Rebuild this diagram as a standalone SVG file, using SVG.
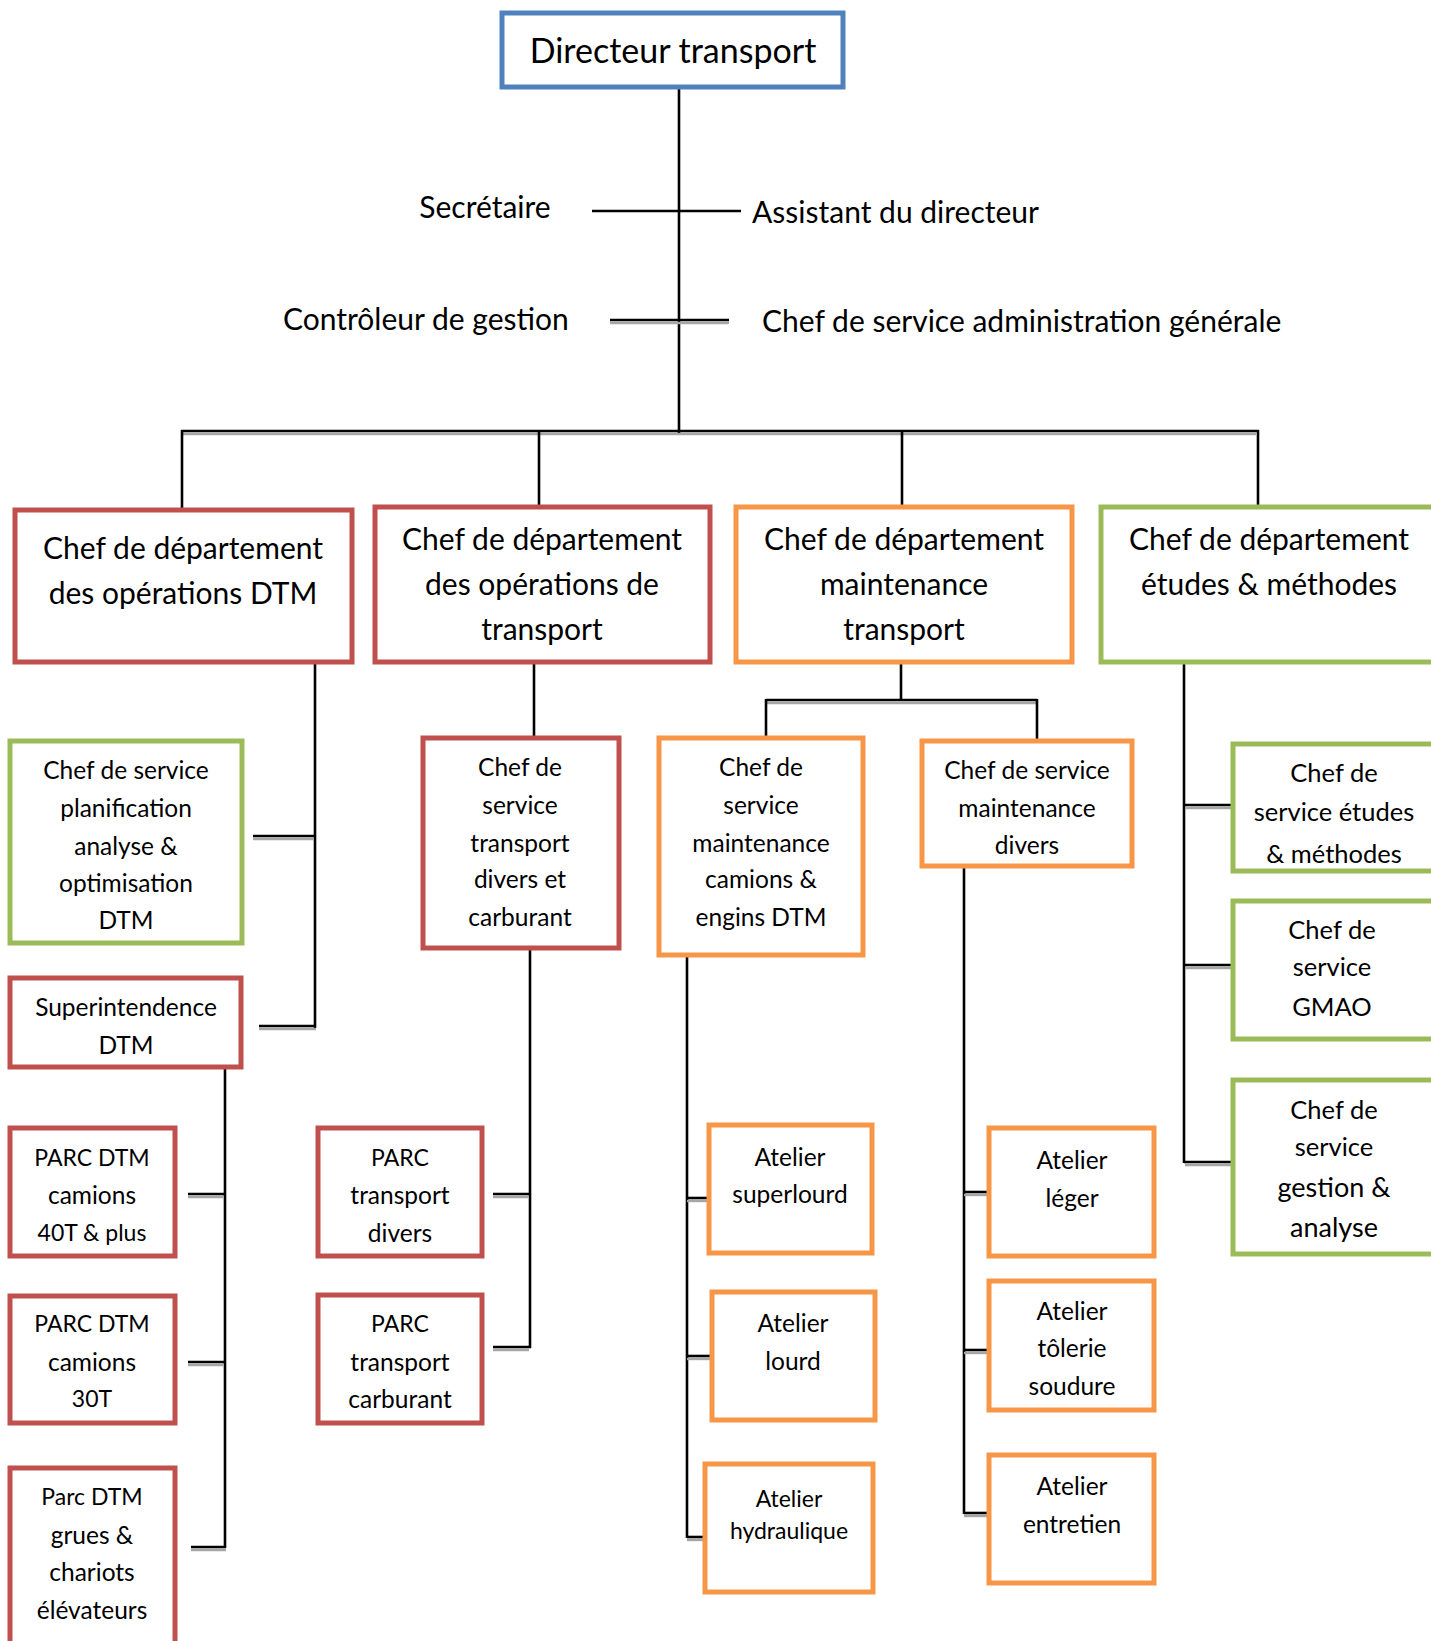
<svg xmlns="http://www.w3.org/2000/svg" width="1431" height="1641" viewBox="0 0 1431 1641">
  <style>
    .box { fill: #ffffff; stroke-width: 5; }
    .blu { stroke: #4F81BD; }
    .red { stroke: #C0504D; }
    .org { stroke: #F79646; }
    .grn { stroke: #9BBB59; }
    .ln { stroke: #000000; stroke-width: 2.6; fill: none; }
    .sh { stroke: #A6A6A6; stroke-width: 2.4; fill: none; }
    text { font-family: Lato, "Liberation Sans", sans-serif; fill: #000000; dominant-baseline: central; }
    .c { text-anchor: middle; }
    .t0 { font-size: 34px; }
    .t1 { font-size: 30px; }
    .t2 { font-size: 24.5px; }
    .t2c { font-size: 23px; }
    .t3 { font-size: 23px; }
    .t4 { font-size: 27px; }
    .t5 { font-size: 25.5px; }
  </style>
  <defs>
    <clipPath id="clipEtudes">
      <rect x="1235" y="746" width="200" height="123"/>
    </clipPath>
  </defs>
  <rect width="1431" height="1641" fill="#ffffff"/>

  <!-- connectors -->
  <g id="connectors">
    <!-- director trunk -->
    <line class="ln" x1="679" y1="88" x2="679" y2="433"/>
    <line class="ln" x1="592" y1="211" x2="741" y2="211"/>
    <line class="sh" x1="610" y1="323" x2="729" y2="323"/>
    <line class="ln" x1="610" y1="320" x2="729" y2="320"/>
    <!-- department bus -->
    <line class="sh" x1="182" y1="434" x2="1256" y2="434"/>
    <line class="ln" x1="181" y1="431" x2="1259" y2="431"/>
    <line class="ln" x1="182" y1="430" x2="182" y2="509"/>
    <line class="ln" x1="539" y1="430" x2="539" y2="506"/>
    <line class="ln" x1="902" y1="430" x2="902" y2="506"/>
    <line class="ln" x1="1258" y1="430" x2="1258" y2="506"/>

    <!-- DTM operations branch -->
    <line class="ln" x1="315" y1="663" x2="315" y2="1028"/>
    <line class="sh" x1="253" y1="839" x2="314" y2="839"/>
    <line class="ln" x1="253" y1="836" x2="315" y2="836"/>
    <line class="sh" x1="259" y1="1029" x2="316" y2="1029"/>
    <line class="ln" x1="259" y1="1026" x2="316" y2="1026"/>
    <!-- superintendence branch -->
    <line class="ln" x1="225" y1="1069" x2="225" y2="1548"/>
    <line class="sh" x1="188" y1="1197" x2="224" y2="1197"/>
    <line class="ln" x1="188" y1="1194" x2="225" y2="1194"/>
    <line class="sh" x1="188" y1="1365" x2="224" y2="1365"/>
    <line class="ln" x1="188" y1="1362" x2="225" y2="1362"/>
    <line class="sh" x1="191" y1="1550" x2="226" y2="1550"/>
    <line class="ln" x1="191" y1="1547" x2="226" y2="1547"/>

    <!-- transport operations branch -->
    <line class="ln" x1="534" y1="663" x2="534" y2="737"/>
    <line class="ln" x1="530" y1="950" x2="530" y2="1348"/>
    <line class="sh" x1="493" y1="1197" x2="529" y2="1197"/>
    <line class="ln" x1="493" y1="1194" x2="530" y2="1194"/>
    <line class="sh" x1="493" y1="1350" x2="529" y2="1350"/>
    <line class="ln" x1="493" y1="1347" x2="531" y2="1347"/>

    <!-- maintenance branch -->
    <line class="ln" x1="901" y1="663" x2="901" y2="700"/>
    <line class="sh" x1="767" y1="703" x2="1036" y2="703"/>
    <line class="ln" x1="766" y1="700" x2="1037" y2="700"/>
    <line class="ln" x1="766" y1="699" x2="766" y2="737"/>
    <line class="ln" x1="1037" y1="699" x2="1037" y2="740"/>
    <line class="ln" x1="687" y1="957" x2="687" y2="1538"/>
    <line class="sh" x1="687" y1="1201" x2="707" y2="1201"/>
    <line class="ln" x1="687" y1="1198" x2="707" y2="1198"/>
    <line class="sh" x1="687" y1="1359" x2="710" y2="1359"/>
    <line class="ln" x1="687" y1="1356" x2="710" y2="1356"/>
    <line class="sh" x1="687" y1="1540" x2="703" y2="1540"/>
    <line class="ln" x1="687" y1="1537" x2="703" y2="1537"/>
    <line class="ln" x1="964" y1="868" x2="964" y2="1514"/>
    <line class="sh" x1="964" y1="1195" x2="987" y2="1195"/>
    <line class="ln" x1="964" y1="1192" x2="987" y2="1192"/>
    <line class="sh" x1="964" y1="1353" x2="987" y2="1353"/>
    <line class="ln" x1="964" y1="1350" x2="987" y2="1350"/>
    <line class="sh" x1="964" y1="1516" x2="987" y2="1516"/>
    <line class="ln" x1="964" y1="1513" x2="987" y2="1513"/>

    <!-- studies & methods branch -->
    <line class="ln" x1="1184" y1="663" x2="1184" y2="1163"/>
    <line class="sh" x1="1185" y1="808" x2="1231" y2="808"/>
    <line class="ln" x1="1184" y1="805" x2="1231" y2="805"/>
    <line class="sh" x1="1185" y1="968" x2="1231" y2="968"/>
    <line class="ln" x1="1184" y1="965" x2="1231" y2="965"/>
    <line class="sh" x1="1185" y1="1165" x2="1231" y2="1165"/>
    <line class="ln" x1="1184" y1="1162" x2="1231" y2="1162"/>
  </g>

  <!-- director and staff -->
  <g id="directeur">
    <rect class="box blu" x="502" y="13" width="341" height="74"/>
    <text class="c t0" x="673" y="49">Directeur transport</text>
  </g>
  <g id="secretaire">
    <text class="c t1" x="485" y="206">Secrétaire</text>
  </g>
  <g id="assistant">
    <text class="t1" x="752" y="211">Assistant du directeur</text>
  </g>
  <g id="controleur">
    <text class="t1" x="283" y="318">Contrôleur de gestion</text>
  </g>
  <g id="admin-generale">
    <text class="t1" x="762" y="320">Chef de service administration générale</text>
  </g>

  <!-- departments -->
  <g id="dep-ops-dtm">
    <rect class="box red" x="15" y="510" width="337" height="152"/>
    <text class="c t1" x="183" y="547">Chef de département</text>
    <text class="c t1" x="183" y="592">des opérations DTM</text>
  </g>
  <g id="dep-ops-transport">
    <rect class="box red" x="375" y="507" width="335" height="155"/>
    <text class="c t1" x="542" y="538">Chef de département</text>
    <text class="c t1" x="542" y="583">des opérations de</text>
    <text class="c t1" x="542" y="628">transport</text>
  </g>
  <g id="dep-maintenance">
    <rect class="box org" x="736" y="507" width="336" height="155"/>
    <text class="c t1" x="904" y="538">Chef de département</text>
    <text class="c t1" x="904" y="583">maintenance</text>
    <text class="c t1" x="904" y="628">transport</text>
  </g>
  <g id="dep-etudes">
    <rect class="box grn" x="1101" y="507" width="345" height="155"/>
    <text class="c t1" x="1269" y="538">Chef de département</text>
    <text class="c t1" x="1269" y="583">études &amp; méthodes</text>
  </g>

  <!-- DTM operations -->
  <g id="planification">
    <rect class="box grn" x="10" y="741" width="232" height="202"/>
    <text class="c t2" x="126" y="769">Chef de service</text>
    <text class="c t2" x="126" y="807">planification</text>
    <text class="c t2" x="126" y="845">analyse &amp;</text>
    <text class="c t2" x="126" y="882">optimisation</text>
    <text class="c t2" x="126" y="919">DTM</text>
  </g>
  <g id="superintendence">
    <rect class="box red" x="10" y="978" width="231" height="89"/>
    <text class="c t2" x="126" y="1006">Superintendence</text>
    <text class="c t2" x="126" y="1044">DTM</text>
  </g>
  <g id="parc-40t">
    <rect class="box red" x="10" y="1128" width="165" height="128"/>
    <text class="c t2c" x="92" y="1157">PARC DTM</text>
    <text class="c t2" x="92" y="1194">camions</text>
    <text class="c t2c" x="92" y="1232">40T &amp; plus</text>
  </g>
  <g id="parc-30t">
    <rect class="box red" x="10" y="1296" width="165" height="127"/>
    <text class="c t2c" x="92" y="1323">PARC DTM</text>
    <text class="c t2" x="92" y="1361">camions</text>
    <text class="c t2c" x="92" y="1398">30T</text>
  </g>
  <g id="parc-grues">
    <rect class="box red" x="10" y="1468" width="165" height="200"/>
    <text class="c t2c" x="92" y="1496">Parc DTM</text>
    <text class="c t2" x="92" y="1534">grues &amp;</text>
    <text class="c t2" x="92" y="1571">chariots</text>
    <text class="c t2" x="92" y="1609">élévateurs</text>
  </g>

  <!-- transport operations -->
  <g id="transport-divers-carburant">
    <rect class="box red" x="423" y="738" width="196" height="210"/>
    <text class="c t2" x="520" y="766">Chef de</text>
    <text class="c t2" x="520" y="804">service</text>
    <text class="c t2" x="520" y="842">transport</text>
    <text class="c t2" x="520" y="878">divers et</text>
    <text class="c t2" x="520" y="916">carburant</text>
  </g>
  <g id="parc-transport-divers">
    <rect class="box red" x="318" y="1128" width="164" height="128"/>
    <text class="c t2c" x="400" y="1157">PARC</text>
    <text class="c t2" x="400" y="1194">transport</text>
    <text class="c t2" x="400" y="1232">divers</text>
  </g>
  <g id="parc-transport-carburant">
    <rect class="box red" x="318" y="1295" width="164" height="128"/>
    <text class="c t2c" x="400" y="1323">PARC</text>
    <text class="c t2" x="400" y="1361">transport</text>
    <text class="c t2" x="400" y="1398">carburant</text>
  </g>

  <!-- maintenance -->
  <g id="maint-camions-engins">
    <rect class="box org" x="659" y="738" width="204" height="217"/>
    <text class="c t2" x="761" y="766">Chef de</text>
    <text class="c t2" x="761" y="804">service</text>
    <text class="c t2" x="761" y="842">maintenance</text>
    <text class="c t2" x="761" y="878">camions &amp;</text>
    <text class="c t2" x="761" y="916">engins DTM</text>
  </g>
  <g id="maint-divers">
    <rect class="box org" x="922" y="741" width="210" height="125"/>
    <text class="c t2" x="1027" y="769">Chef de service</text>
    <text class="c t2" x="1027" y="807">maintenance</text>
    <text class="c t2" x="1027" y="844">divers</text>
  </g>
  <g id="atelier-superlourd">
    <rect class="box org" x="709" y="1125" width="163" height="128"/>
    <text class="c t2" x="790" y="1156">Atelier</text>
    <text class="c t2" x="790" y="1193">superlourd</text>
  </g>
  <g id="atelier-lourd">
    <rect class="box org" x="712" y="1292" width="163" height="128"/>
    <text class="c t2" x="793" y="1322">Atelier</text>
    <text class="c t2" x="793" y="1360">lourd</text>
  </g>
  <g id="atelier-hydraulique">
    <rect class="box org" x="705" y="1464" width="168" height="128"/>
    <text class="c t3" x="789" y="1498">Atelier</text>
    <text class="c t3" x="789" y="1530">hydraulique</text>
  </g>
  <g id="atelier-leger">
    <rect class="box org" x="989" y="1128" width="165" height="128"/>
    <text class="c t2" x="1072" y="1159">Atelier</text>
    <text class="c t2" x="1072" y="1197">léger</text>
  </g>
  <g id="atelier-tolerie">
    <rect class="box org" x="989" y="1281" width="165" height="129"/>
    <text class="c t2" x="1072" y="1310">Atelier</text>
    <text class="c t2" x="1072" y="1347">tôlerie</text>
    <text class="c t2" x="1072" y="1385">soudure</text>
  </g>
  <g id="atelier-entretien">
    <rect class="box org" x="989" y="1455" width="165" height="128"/>
    <text class="c t2" x="1072" y="1485">Atelier</text>
    <text class="c t2" x="1072" y="1523">entretien</text>
  </g>

  <!-- studies & methods -->
  <g id="service-etudes">
    <rect class="box grn" x="1233" y="744" width="220" height="127"/>
    <g clip-path="url(#clipEtudes)">
      <text class="c t5" x="1334" y="772">Chef de</text>
      <text class="c t5" x="1334" y="811">service études</text>
      <text class="c t5" x="1334" y="853">&amp; méthodes</text>
    </g>
  </g>
  <g id="service-gmao">
    <rect class="box grn" x="1233" y="901" width="220" height="138"/>
    <text class="c t5" x="1332" y="929">Chef de</text>
    <text class="c t5" x="1332" y="966">service</text>
    <text class="c t5" x="1332" y="1006">GMAO</text>
  </g>
  <g id="service-gestion">
    <rect class="box grn" x="1233" y="1080" width="220" height="174"/>
    <text class="c t5" x="1334" y="1109">Chef de</text>
    <text class="c t5" x="1334" y="1146">service</text>
    <text class="c t4" x="1334" y="1186">gestion &amp;</text>
    <text class="c t4" x="1334" y="1226">analyse</text>
  </g>
</svg>
